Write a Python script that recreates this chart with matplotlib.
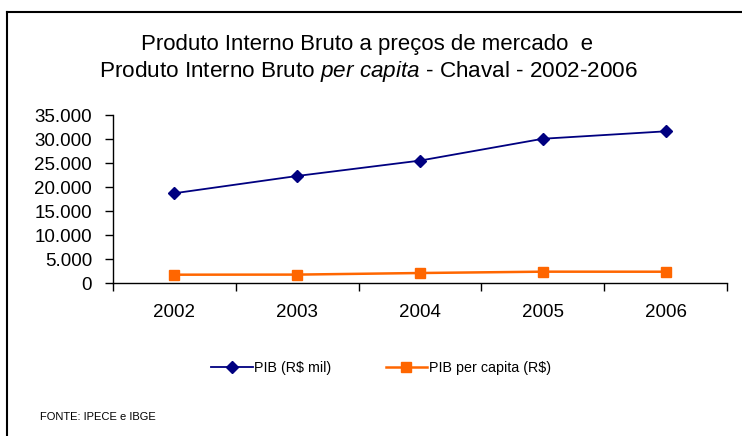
import matplotlib
matplotlib.use("Agg")
import matplotlib.pyplot as plt
from matplotlib.ticker import FuncFormatter, FixedLocator
from matplotlib.lines import Line2D

plt.rcParams["font.family"] = ["Liberation Sans", "DejaVu Sans"]
plt.rcParams["mathtext.fontset"] = "custom"
plt.rcParams["mathtext.rm"] = "Liberation Sans"
plt.rcParams["mathtext.it"] = "Liberation Sans:italic"

# dados
anos = ["2002", "2003", "2004", "2005", "2006"]
pib_mil = [18700, 22300, 25500, 30050, 31600]
pib_per_capita = [1730, 1750, 2080, 2360, 2350]

fig = plt.figure(figsize=(7.42, 4.36), dpi=100)

# moldura (so topo e esquerda visiveis)
fig.add_artist(Line2D([7 / 742, 7 / 742], [0, 1 - 12 / 436], color="black", lw=1.5))
fig.add_artist(Line2D([7 / 742, 1], [1 - 12 / 436, 1 - 12 / 436], color="black", lw=1.5))

ax = fig.add_axes([113 / 742, 1 - 283 / 436, (727 - 113) / 742, (283 - 115) / 436])

x = list(range(len(anos)))
ax.plot(x, pib_mil, color="#000080", lw=1.3, marker="D", markersize=6.5,
        label="PIB (R$ mil)")
ax.plot(x, pib_per_capita, color="#FF6600", lw=1.8, marker="s", markersize=7,
        label="PIB per capita (R$)")

ax.set_xlim(-0.5, 4.5)
ax.set_ylim(0, 35000)
ax.set_yticks(range(0, 35001, 5000))
ax.yaxis.set_major_formatter(FuncFormatter(lambda v, p: f"{int(v):,}".replace(",", ".")))
ax.set_xticks(x)
ax.set_xticklabels(anos)
ax.xaxis.set_minor_locator(FixedLocator([i - 0.5 for i in range(len(anos) + 1)]))
ax.tick_params(axis="x", which="major", length=0, pad=15, labelsize=13.5)
ax.tick_params(axis="x", which="minor", length=6, width=1, direction="out")
ax.tick_params(axis="y", length=6, width=1, direction="out", labelsize=13.5, pad=9)

ax.spines["top"].set_visible(False)
ax.spines["right"].set_visible(False)
ax.spines["left"].set_linewidth(1)
ax.spines["bottom"].set_linewidth(1)

fig.text(367 / 742, 1 - 44 / 436, "Produto Interno Bruto a preços de mercado  e",
         ha="center", va="center", fontsize=16)
fig.text(368 / 742, 1 - 72 / 436,
         r"Produto Interno Bruto $\mathit{per\ capita}$ - Chaval - 2002-2006",
         ha="center", va="center", fontsize=16.2)

fig.legend(loc="center", bbox_to_anchor=(381 / 742, 1 - 368 / 436), ncol=2,
           frameon=False, fontsize=10.3, handlelength=2.9, columnspacing=3.8,
           handletextpad=0.1)

fig.text(40 / 742, 1 - 417 / 436, "FONTE: IPECE e IBGE", ha="left", va="center",
         fontsize=8)

fig.savefig("out.png", dpi=100)
